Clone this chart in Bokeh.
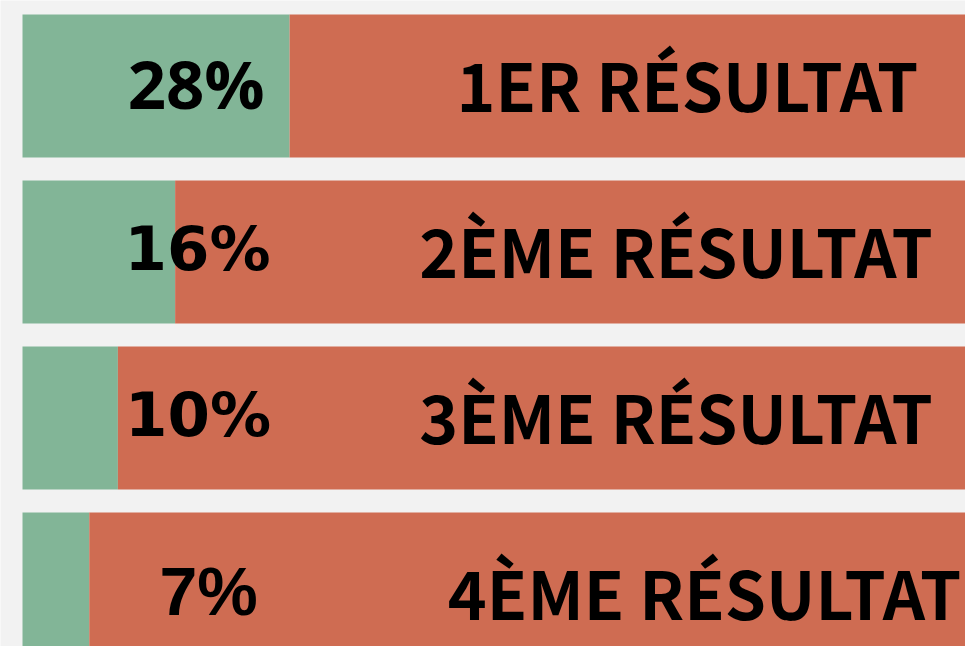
from bokeh.plotting import figure
from bokeh.models import ColumnDataSource, Range1d
from bokeh.core.properties import value
from bokeh.embed import file_html
from bokeh.resources import INLINE

# ---- data ----
categories = ["1ER RÉSULTAT", "2ÈME RÉSULTAT", "3ÈME RÉSULTAT", "4ÈME RÉSULTAT"]
shares = [28, 16, 10, 7]
total = 100
pct_labels = [f"{s}%" for s in shares]

# ---- style / layout constants ----
GREEN = "#82b597"
ORANGE = "#cf6c52"
BG = "#f2f2f2"
W, H = 965, 646

rows = list(range(len(categories)))

p = figure(width=W, height=H, output_backend="svg", toolbar_location=None,
           x_range=Range1d(-2.306, 98.85), y_range=Range1d(3.3765, -0.5151),
           min_border=0, background_fill_color=BG, border_fill_color=BG,
           outline_line_color=None)
p.axis.visible = False
p.grid.visible = False

bars = ColumnDataSource(dict(y=rows, share=shares, total=[total] * len(rows)))
p.hbar(y="y", left=0, right="share", height=0.861, source=bars,
       fill_color=GREEN, line_color=None)
p.hbar(y="y", left="share", right="total", height=0.861, source=bars,
       fill_color=ORANGE, line_color=None)

# label placement (positions in data units)
pct_x = [18.2, 18.35, 18.4, 19.5]
cat_x = [69.7, 68.5, 68.5, 71.5]
base_dy = [-0.021, -0.021, -0.021, 0.045]
pct_fonts = ["Open Sans", "DejaVu Sans", "DejaVu Sans", "Liberation Sans"]
pct_sizes = ["67px", "61px", "61px", "68px"]

pct_src = ColumnDataSource(dict(
    x=pct_x, y=[r + d for r, d in zip(rows, base_dy)], text=pct_labels,
    font=pct_fonts, size=pct_sizes))
p.text(x="x", y="y", text="text", source=pct_src, text_font="font",
       text_font_size="size", text_font_style="bold", text_color="black",
       text_align="center", text_baseline="alphabetic")

cat_src = ColumnDataSource(dict(
    x=cat_x, y=[r + d for r, d in zip(rows, base_dy)], text=categories))
p.text(x="x", y="y", text="text", source=cat_src,
       text_font=value("Noto Sans CJK JP"), text_font_size="66px",
       text_font_style="bold", text_color="black",
       text_align="center", text_baseline="alphabetic")

open("out.html", "w").write(file_html(p, INLINE))
